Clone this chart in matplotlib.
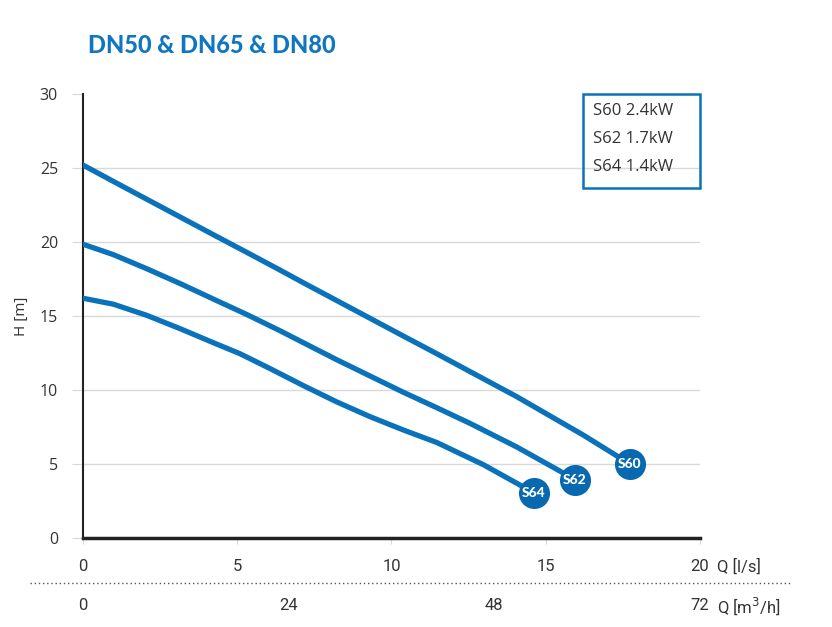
import matplotlib.pyplot as plt
from matplotlib.patches import Rectangle
from matplotlib.lines import Line2D

# pump curves (Q in l/s, H in m)
s60_q = [0, 0.98, 2.06, 3.14, 4.22, 5.31, 6.39, 7.14, 8.22, 9.30, 10.38,
         11.47, 12.54, 13.3, 14.06, 15.14, 16.22, 17.73]
s60_h = [25.2, 24.1, 22.9, 21.7, 20.5, 19.3, 18.1, 17.25, 16.05, 14.85, 13.65,
         12.45, 11.25, 10.4, 9.55, 8.25, 6.95, 5.0]
s62_q = [0, 0.98, 2.06, 3.14, 4.22, 5.31, 6.39, 7.14, 8.22, 9.30, 10.38,
         11.47, 12.54, 14.06, 15.95]
s62_h = [19.85, 19.15, 18.2, 17.2, 16.15, 15.1, 14.0, 13.2, 12.05, 10.95, 9.85,
         8.8, 7.75, 6.15, 3.95]
s64_q = [0, 0.98, 2.06, 3.14, 4.22, 5.09, 6.06, 7.14, 8.22, 9.30, 10.38,
         11.47, 12.98, 14.62]
s64_h = [16.2, 15.8, 15.05, 14.15, 13.2, 12.45, 11.45, 10.3, 9.2, 8.2, 7.3,
         6.45, 4.95, 3.05]

series = [("S60", s60_q, s60_h), ("S62", s62_q, s62_h), ("S64", s64_q, s64_h)]
legend_lines = ["S60 2.4kW", "S62 1.7kW", "S64 1.4kW"]

ls_ticks = [0, 5, 10, 15, 20]
m3h_ticks = [0, 24, 48, 72]
h_ticks = [0, 5, 10, 15, 20, 25, 30]

blue = "#0A72BA"
dot_blue = "#0869B0"
grey_txt = "#333333"
narrow = ["Roboto", "DejaVu Sans"]

fig = plt.figure(figsize=(8.32, 6.27), dpi=100)
ax = fig.add_axes([0.0998, 0.142, 0.7415, 0.708])

for name, q, h in series:
    ax.plot(q, h, color=blue, lw=3.8, solid_capstyle="round",
            solid_joinstyle="round", zorder=3)
    ax.scatter(q[-1], h[-1], s=500, color=dot_blue, zorder=4, linewidths=0)
    ax.text(q[-1], h[-1], name, color="white", fontsize=10, fontweight="black",
            ha="center", va="center", zorder=5, family="Lato")

ax.set_xlim(0, 20)
ax.set_ylim(0, 30)
ax.set_yticks(h_ticks)
ax.set_xticks(ls_ticks)
for y in h_ticks[1:-1]:
    ax.axhline(y, color="#d9d9d9", lw=1, zorder=1)
ax.tick_params(axis="y", length=8, color="#d9d9d9", labelsize=11.5,
               labelcolor=grey_txt, pad=10)
ax.tick_params(axis="x", length=4, color="#d9d9d9", labelsize=12,
               labelcolor=grey_txt, pad=11.5)
for lab in ax.get_xticklabels():
    lab.set_family(narrow)
for lab in ax.get_yticklabels():
    lab.set_family("Open Sans")

for side in ["top", "right"]:
    ax.spines[side].set_visible(False)
ax.spines["left"].set_color("#222222")
ax.spines["bottom"].set_color("#222222")
ax.spines["left"].set_linewidth(1.5)
ax.spines["bottom"].set_linewidth(2.5)

ax.set_ylabel("H [m]", fontsize=11, color=grey_txt, family="Open Sans", labelpad=8)

# second scale in m3/h
for i, v in enumerate(m3h_ticks):
    ax.text(ls_ticks[0] + i * (20 / 3), -0.153, str(v), transform=ax.get_xaxis_transform(),
            ha="center", va="center", fontsize=12, color=grey_txt, family=narrow)
ax.text(20.55, -0.065, "Q [l/s]", transform=ax.get_xaxis_transform(),
        ha="left", va="center", fontsize=12, color=grey_txt, family=narrow)
ax.text(20.55, -0.153, "Q [m$^3$/h]", transform=ax.get_xaxis_transform(),
        ha="left", va="center", fontsize=12, color=grey_txt, family=narrow)
fig.add_artist(Line2D([0.036, 0.95], [0.0702, 0.0702], transform=fig.transFigure,
                      color="#555555", lw=1, linestyle=(0, (1, 2))))

# legend box
ax.add_patch(Rectangle((0.81, 0.788), 0.19, 0.212, transform=ax.transAxes,
                       fill=False, edgecolor=blue, lw=1.8, clip_on=False, zorder=6))
for i, txt in enumerate(legend_lines):
    ax.text(0.826, 0.962 - i * 0.063, txt, transform=ax.transAxes, ha="left",
            va="center", fontsize=12, color=grey_txt, family="Open Sans")

fig.text(0.106, 0.928, "DN50 & DN65 & DN80", color="#1176C2", fontsize=17,
         fontweight="black", family="Lato", va="center")

plt.savefig("out.png", dpi=100)
